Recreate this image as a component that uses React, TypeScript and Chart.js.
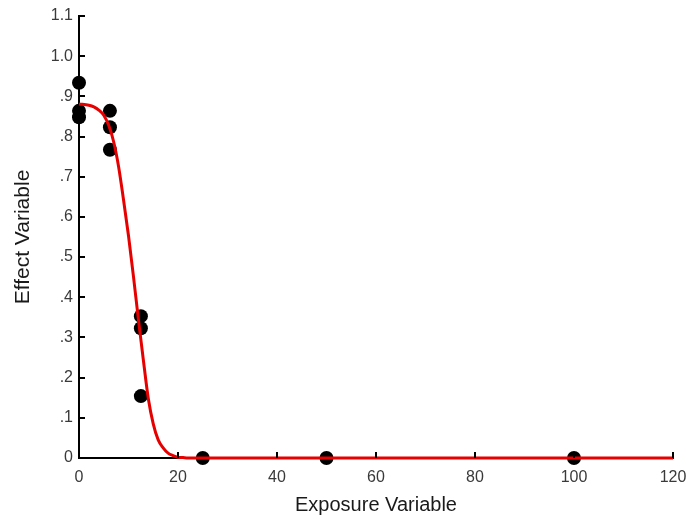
import React, { useEffect, useRef } from "react";
import { Chart, registerables } from "chart.js";

Chart.register(...registerables);

// Observed responses at each exposure level
const exposureX = [0, 0, 0, 6.25, 6.25, 6.25, 12.5, 12.5, 12.5, 25, 50, 100];
const effectY = [0.934, 0.864, 0.848, 0.864, 0.823, 0.767, 0.353, 0.323, 0.154, 0, 0, 0];

// Fitted dose-response curve
const curveX = [0, 2, 3, 4, 5, 6, 7, 8, 9, 10, 11, 12, 13, 14, 15, 16, 17, 18, 19, 20, 21, 22, 120];
const curveY = [
  0.881, 0.878, 0.874, 0.866, 0.853, 0.828, 0.787, 0.725, 0.642, 0.553, 0.452, 0.345,
  0.244, 0.148, 0.085, 0.045, 0.025, 0.012, 0.006, 0.002, 0.001, 0, 0,
];

const xTicks = [0, 20, 40, 60, 80, 100, 120];
const yMax = 1.1;

const fontFamily = "'Liberation Sans', Arial, sans-serif";

// Short tick marks pointing into the plot area
const innerTicks = {
  id: "innerTicks",
  afterDraw(chart: any) {
    const { ctx, chartArea, scales } = chart;
    ctx.save();
    ctx.strokeStyle = "#000";
    ctx.lineWidth = 2;
    ctx.beginPath();
    scales.y.ticks.forEach((t: any) => {
      if (t.value === 0) return;
      const py = Math.round(scales.y.getPixelForValue(t.value));
      ctx.moveTo(chartArea.left, py);
      ctx.lineTo(chartArea.left + 6, py);
    });
    scales.x.ticks.forEach((t: any) => {
      if (t.value === 0) return;
      const px = Math.round(scales.x.getPixelForValue(t.value));
      ctx.moveTo(px, chartArea.bottom);
      ctx.lineTo(px, chartArea.bottom - 6);
    });
    ctx.stroke();
    ctx.restore();
  },
};

export default function App() {
  const canvasRef = useRef<HTMLCanvasElement | null>(null);

  useEffect(() => {
    if (!canvasRef.current) return;
    const chart = new Chart(canvasRef.current, {
      type: "scatter",
      data: {
        datasets: [
          {
            label: "Fit",
            data: curveX.map((x, i) => ({ x, y: curveY[i] })),
            showLine: true,
            borderColor: "#e60000",
            borderWidth: 3,
            pointRadius: 0,
            cubicInterpolationMode: "monotone",
            clip: false,
          } as any,
          {
            label: "Observed",
            data: exposureX.map((x, i) => ({ x, y: effectY[i] })),
            backgroundColor: "#000",
            borderColor: "#000",
            pointRadius: 7,
            pointBorderWidth: 0,
            clip: false,
          } as any,
        ],
      },
      options: {
        responsive: false,
        animation: false,
        devicePixelRatio: 1,
        layout: { padding: { left: 8, right: 16, top: 16, bottom: 0 } },
        plugins: { legend: { display: false }, tooltip: { enabled: false } },
        scales: {
          x: {
            type: "linear",
            min: 0,
            max: 120,
            afterBuildTicks: (s: any) => {
              s.ticks = xTicks.map((v) => ({ value: v }));
            },
            afterFit: (s: any) => {
              s.height = 61;
              s.paddingLeft = 0;
              s.paddingRight = 0;
            },
            grid: { display: false, drawTicks: false },
            border: { display: true, color: "#000", width: 2 },
            ticks: {
              padding: 10,
              color: "#3a3a3a",
              font: { family: fontFamily, size: 16 },
              maxRotation: 0,
            },
            title: {
              display: true,
              text: "Exposure Variable",
              color: "#1a1a1a",
              font: { family: fontFamily, size: 20 },
              padding: { top: 4, bottom: 2 },
            },
          },
          y: {
            type: "linear",
            min: 0,
            max: yMax,
            afterFit: (s: any) => {
              s.width = 71;
              s.paddingTop = 0;
              s.paddingBottom = 0;
            },
            grid: { display: false, drawTicks: false },
            border: { display: true, color: "#000", width: 2 },
            ticks: {
              stepSize: 0.1,
              padding: 6,
              color: "#3a3a3a",
              font: { family: fontFamily, size: 16 },
              callback: (v: any) => {
                const n = Number(v);
                if (Math.abs(n) < 1e-9) return "0";
                const s = n.toFixed(1);
                return n < 1 ? s.replace(/^0/, "") : s;
              },
            },
            title: {
              display: true,
              text: "Effect Variable",
              color: "#1a1a1a",
              font: { family: fontFamily, size: 21 },
              padding: { top: 3, bottom: 4 },
            },
          },
        },
      },
      plugins: [innerTicks],
    });
    return () => chart.destroy();
  }, []);

  return (
    <div style={{ position: "absolute", left: 0, top: 0, width: 689, height: 519, background: "#fff" }}>
      <canvas ref={canvasRef} width={689} height={519} style={{ display: "block" }} />
    </div>
  );
}
